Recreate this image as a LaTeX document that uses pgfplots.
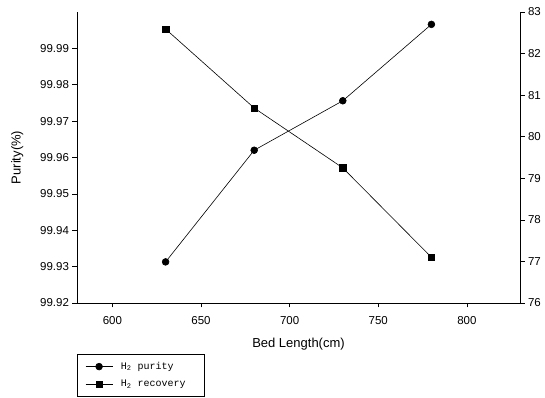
\documentclass[border=0pt]{standalone}
\usepackage{pgfplots}
\pgfplotsset{compat=1.18}
\usepackage{fontspec}
\setmainfont{Liberation Sans}
\newfontfamily\monofont{Liberation Mono}
\begin{document}
\begin{tikzpicture}[x=1pt,y=1pt]
\pgfplotsset{
  every axis/.append style={
    scale only axis, width=443pt, height=291pt,
    xmin=580, xmax=830,
    tick align=outside, major tick length=4.5pt,
    tick style={black, line width=0.6pt},
    axis line style={line width=0.7pt},
    /pgf/number format/assume math mode=true,
    tick label style={font=\fontsize{11.5}{13}\selectfont},
    label style={font=\fontsize{13}{15}\selectfont},
  }
}
\begin{axis}[
  at={(0,0)}, anchor=south west,
  ymin=99.92, ymax=100.00,
  ytick={99.92,99.93,99.94,99.95,99.96,99.97,99.98,99.99},
  yticklabel style={/pgf/number format/.cd, fixed, fixed zerofill, precision=2},
  xtick={600,650,...,800},
  xticklabel style={yshift=-5pt},
  axis x line*=bottom, axis y line*=left,
  xlabel={Bed Length(cm)}, ylabel={Purity(\%)},
  xlabel style={yshift=-7pt},
  ylabel style={yshift=10pt},
  legend style={at={(axis description cs:0,-0.175)}, anchor=north west,
    font=\monofont\fontsize{10}{12}\selectfont, draw=black, line width=0.6pt,
    inner xsep=8pt, inner ysep=6pt, row sep=5pt, legend cell align=left},
  legend image code/.code={\draw[mark repeat=2,mark phase=2,#1] plot coordinates {(0pt,0pt) (13.5pt,0pt) (27pt,0pt)};},
]
\addplot[black, line width=0.6pt, mark=*, mark size=3.4pt] coordinates {
  (630,99.9313) (680,99.9620) (730,99.9756) (780,99.9966)
};
\addlegendentry{\hspace{6pt}\makebox[73pt][l]{H\textsubscript{2} purity}}
\addlegendimage{black, line width=0.6pt, mark=square*, mark size=3.2pt}
\addlegendentry{\hspace{6pt}\makebox[73pt][l]{H\textsubscript{2} recovery}}
\end{axis}
\begin{axis}[
  at={(0,0)}, anchor=south west,
  ymin=76, ymax=83,
  ytick={76,...,83},
  axis x line=none, axis y line*=right,
]
\addplot[black, line width=0.6pt, mark=square*, mark size=3.2pt] coordinates {
  (630,82.59) (680,80.69) (730,79.25) (780,77.10)
};
\end{axis}
\useasboundingbox (-77,-95) rectangle (468,303);
\end{tikzpicture}
\end{document}
